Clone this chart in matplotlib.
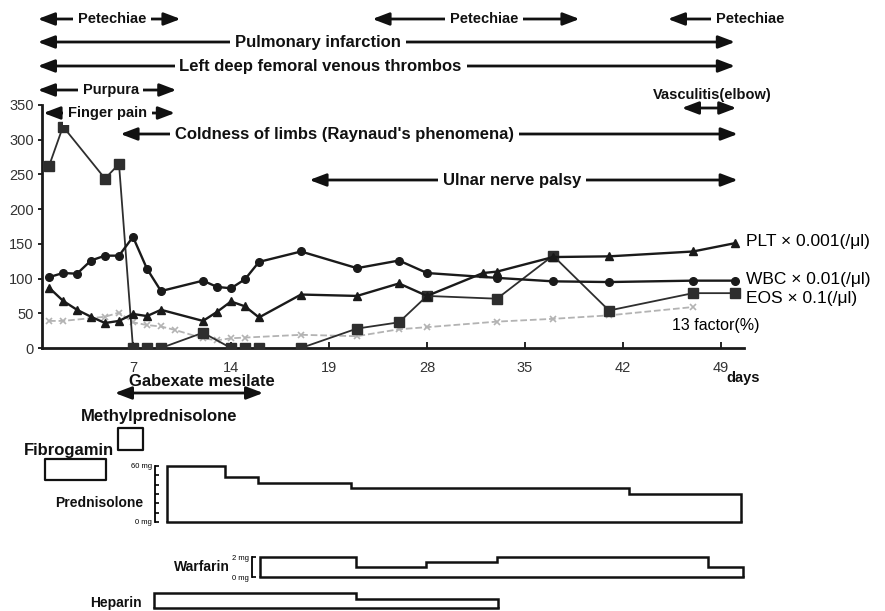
import matplotlib
matplotlib.use('Agg')
import matplotlib.pyplot as plt

plt.rcParams['font.family'] = ['Liberation Sans', 'DejaVu Sans']

# ------- lab values (day, value)
wbc_day = [1, 2, 3, 4, 5, 6, 7, 8, 9, 12, 13, 14, 15, 16, 19, 23, 26, 28, 33, 37, 41, 47, 50]
wbc = [102, 108, 107, 126, 133, 133, 160, 114, 82, 97, 88, 86, 99, 124, 139, 115, 126, 108, 101, 96, 95, 97, 97]

plt_day = [1, 2, 3, 4, 5, 6, 7, 8, 9, 12, 13, 14, 15, 16, 19, 23, 26, 28, 32, 33, 37, 41, 47, 50]
plt_vals = [87, 68, 55, 45, 36, 39, 49, 46, 55, 39, 52, 67, 60, 44, 77, 75, 93, 75, 108, 110, 131, 132, 139, 151]

eos_day = [1, 2, 5, 6, 7, 8, 9, 12, 14, 15, 16, 19, 23, 26, 28, 33, 37, 41, 47, 50]
eos = [262, 319, 244, 265, 0, 0, 0, 22, 0, 0, 0, 0, 28, 37, 75, 71, 133, 54, 79, 79]

f13_day = [1, 2, 5, 6, 7, 8, 9, 10, 12, 13, 14, 15, 19, 23, 26, 28, 33, 37, 41, 47]
f13 = [39, 39, 45, 51, 37, 33, 31, 26, 14, 11, 14, 15, 19, 17, 27, 30, 38, 42, 47, 59]

x_ticks = [7, 14, 21, 28, 35, 42, 49]
x_ticklabels = ['7', '14', '19', '28', '35', '42', '49']

# ------- clinical course (start day, end day, label centre day)
sym_labels = ['Petechiae', 'Petechiae', 'Petechiae', 'Pulmonary infarction',
              'Left deep femoral venous thrombos', 'Purpura', 'Finger pain',
              "Coldness of limbs (Raynaud's phenomena)", 'Ulnar nerve palsy', 'Vasculitis(elbow)']
sym_start = [0.2, 24.1, 45.2, 0.2, 0.2, 0.2, 0.6, 6.1, 19.6, 46.2]
sym_end = [10.4, 38.9, 51.1, 50.0, 50.0, 10.1, 10.0, 50.2, 50.2, 50.1]
sym_text = [5.5, 32.1, 51.1, 20.2, 20.4, 5.4, 5.2, 22.1, 34.1, 48.4]

# ------- drugs
pred_edges = [9.4, 13.6, 15.9, 22.6, 42.4, 50.4]
pred_dose = [60, 48, 42, 36, 30]
warf_edges = [16.1, 22.9, 27.9, 33.0, 48.1, 50.6]
warf_dose = [2, 1, 1.5, 2, 1]
hep_edges = [8.5, 22.9, 33.1]
hep_dose = [1.0, 0.6]
fibro_span = (0.7, 5.1)
mpsl_span = (5.9, 7.7)
gabexate_span = (5.7, 16.3)

# ------- layout (figure pixels)
W, H = 885, 611
px0, px_per_day = 35, 14.0
day_lo = -px0 / px_per_day
day_hi = (W - px0) / px_per_day
INK = '#111111'


def fig_rect(left_px, top_px, right_px, bottom_px):
    return [left_px / W, 1 - bottom_px / H, (right_px - left_px) / W, (bottom_px - top_px) / H]


fig = plt.figure(figsize=(W / 100, H / 100), dpi=100)

# --- main lab chart
ax = fig.add_axes(fig_rect(42, 105, 744, 348))
ax.plot(f13_day, f13, color='#b3b3b3', ls='--', lw=1.3, marker='x', ms=4, mew=1.2, zorder=2)
ax.plot(eos_day, eos, color='#2e2e2e', lw=1.3, marker='s', ms=6.5, zorder=3)
ax.plot(plt_day, plt_vals, color='#1a1a1a', lw=1.7, marker='^', ms=5.5, zorder=4)
ax.plot(wbc_day, wbc, color='#1a1a1a', lw=1.7, marker='o', ms=5.5, zorder=5)
ax.set_xlim((42 - px0) / px_per_day, (744 - px0) / px_per_day)
ax.set_ylim(0, 350)
ax.set_yticks(range(0, 351, 50))
ax.set_xticks(x_ticks)
ax.set_xticklabels(x_ticklabels)
for s in ['top', 'right']:
    ax.spines[s].set_visible(False)
for s in ['left', 'bottom']:
    ax.spines[s].set_linewidth(2)
    ax.spines[s].set_color('#1a1a1a')
ax.tick_params(axis='y', direction='out', length=3, width=1.2, labelsize=10.5, labelcolor='#333333', pad=3)
ax.tick_params(axis='x', direction='in', length=4, width=1.2, labelsize=10.5, labelcolor='#333333', pad=9)
ax.set_facecolor('none')

ax.text(50.8, 153, 'PLT \u00d7 0.001(/\u03bcl)', fontsize=12.5, va='center', ha='left')
ax.text(50.8, 98, 'WBC \u00d7 0.01(/\u03bcl)', fontsize=12.5, va='center', ha='left')
ax.text(50.8, 72, 'EOS \u00d7 0.1(/\u03bcl)', fontsize=12.5, va='center', ha='left')
ax.text(48.6, 33, '13 factor(%)', fontsize=11.5, va='center', ha='center')

# --- overlay for annotations (x in days, y in pixel rows)
ov = fig.add_axes([0, 0, 1, 1])
ov.set_xlim(day_lo, day_hi)
ov.set_ylim(H, 0)
ov.axis('off')

row_y = [19, 19, 19, 42, 66, 90, 113, 134, 180, 108]
text_y = [19, 19, 19, 42, 66, 90, 113, 134, 180, 95]
sizes = [10.5, 10.5, 10.5, 12, 12, 10.5, 10.5, 12, 12, 10.5]
styles = ['<|-|>'] * 2 + ['<|-'] + ['<|-|>'] * 7
head = ',head_length=1.0,head_width=0.38'
for lab, x0, x1, xc, ya, yt, fs, st in zip(sym_labels, sym_start, sym_end, sym_text,
                                           row_y, text_y, sizes, styles):
    ov.annotate('', xy=(x1, ya), xytext=(x0, ya),
                arrowprops=dict(arrowstyle=st + head, lw=2, color=INK, shrinkA=0, shrinkB=0))
    box = dict(fc='white', ec='none', pad=3.5) if yt == ya else None
    ov.text(xc, yt, lab, ha='center', va='center', fontsize=fs, fontweight='bold', color=INK,
            bbox=box, zorder=6)

ov.text(50.6, 378, 'days', ha='center', va='center', fontsize=10.5, fontweight='bold', color=INK)

# gabexate
ov.annotate('', xy=(gabexate_span[1], 393), xytext=(gabexate_span[0], 393),
            arrowprops=dict(arrowstyle='<|-|>' + head, lw=2, color=INK, shrinkA=0, shrinkB=0))
ov.text(11.9, 381, 'Gabexate mesilate', ha='center', va='center', fontsize=12, fontweight='bold', color=INK)

# boxes
ov.broken_barh([(mpsl_span[0], mpsl_span[1] - mpsl_span[0])], (428, 22), facecolors='none',
               edgecolors=INK, linewidth=1.6)
ov.broken_barh([(fibro_span[0], fibro_span[1] - fibro_span[0])], (459, 21), facecolors='none',
               edgecolors=INK, linewidth=1.6)
ov.text(8.9, 416, 'Methylprednisolone', ha='center', va='center', fontsize=12, fontweight='bold', color=INK)
ov.text(2.4, 450, 'Fibrogamin', ha='center', va='center', fontsize=12, fontweight='bold', color=INK)
ov.text(4.6, 503, 'Prednisolone', ha='center', va='center', fontsize=10, fontweight='bold', color=INK)
ov.text(11.9, 567, 'Warfarin', ha='center', va='center', fontsize=10, fontweight='bold', color=INK)
ov.text(5.8, 603, 'Heparin', ha='center', va='center', fontsize=10, fontweight='bold', color=INK)


def drug_axes(top_px, bottom_px, ymax, spine_day=None, ticks=None, labels=None):
    a = fig.add_axes(fig_rect(0, top_px, W, bottom_px))
    a.set_xlim(day_lo, day_hi)
    a.set_ylim(0, ymax)
    a.set_facecolor('none')
    for s in ['top', 'right', 'bottom']:
        a.spines[s].set_visible(False)
    a.set_xticks([])
    if spine_day is None:
        a.spines['left'].set_visible(False)
        a.set_yticks([])
    else:
        a.spines['left'].set_position(('data', spine_day))
        a.spines['left'].set_linewidth(1.3)
        a.set_yticks(ticks)
        a.set_yticklabels(labels)
        a.tick_params(axis='y', direction='in', length=3, width=1.2, labelsize=5.5, pad=2)
    return a


def draw_dose(a, edges, dose):
    a.stairs(dose, edges, baseline=0, color=INK, lw=1.8, clip_on=False)
    a.plot([edges[0], edges[-1]], [0, 0], color=INK, lw=1.8, clip_on=False)


pa = drug_axes(466, 522, 60, spine_day=(155 - px0) / px_per_day,
               ticks=[0, 10, 20, 30, 40, 50, 60], labels=['0 mg', '', '', '', '', '', '60 mg'])
draw_dose(pa, pred_edges, pred_dose)

wa = drug_axes(557, 577, 2, spine_day=(252 - px0) / px_per_day,
               ticks=[0, 2], labels=['0 mg', '2 mg'])
draw_dose(wa, warf_edges, warf_dose)

ha = drug_axes(593, 608, 1.0)
draw_dose(ha, hep_edges, hep_dose)

fig.savefig('out.png', dpi=100)
